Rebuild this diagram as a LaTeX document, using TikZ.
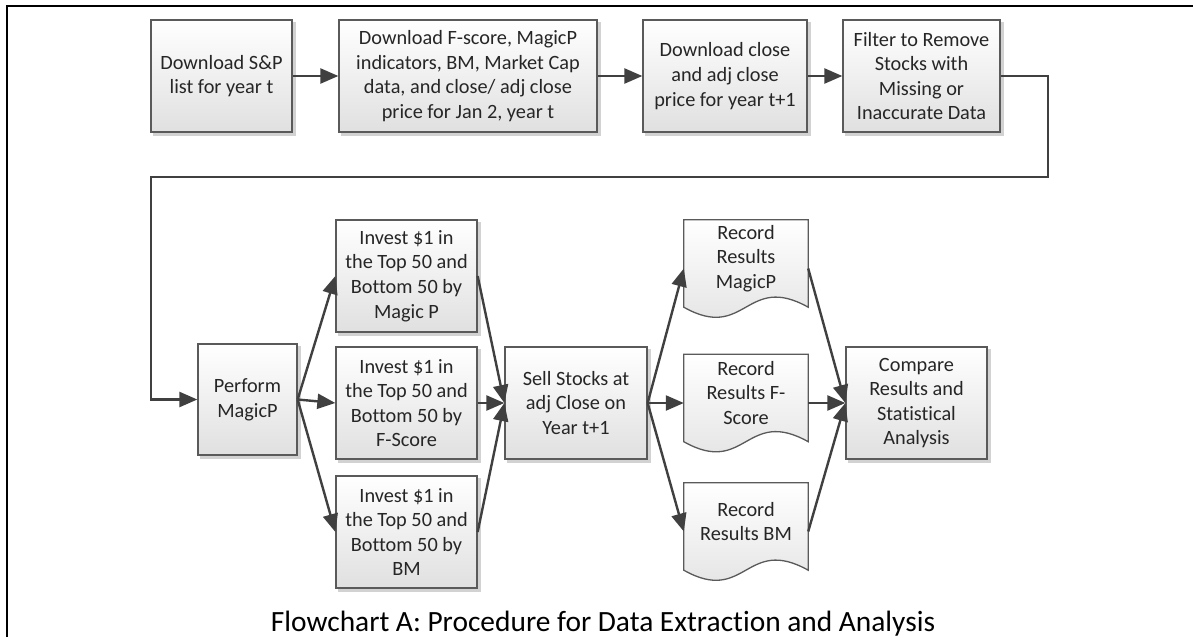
\documentclass[tikz,border=0pt]{standalone}
\usepackage{fontspec}
\setmainfont{Carlito}[Ligatures={NoCommon}]
\usetikzlibrary{arrows.meta,calc}
\pgfdeclarelayer{background}
\pgfsetlayers{background,main}
\definecolor{linec}{HTML}{404040}
\definecolor{bordc}{HTML}{5A5A5A}
\definecolor{shadc}{HTML}{D2D2D2}
\definecolor{fillb}{HTML}{E0E0E0}
\definecolor{textc}{HTML}{262626}
\begin{document}
\begin{tikzpicture}[x=1pt,y=-1pt,
  boxtext/.style={align=center, inner sep=0pt, font=\fontsize{20.3}{24.6}\selectfont, text=textc},
  box/.style={boxtext, draw=bordc, line width=1.3pt, top color=white, bottom color=fillb},
  docbox/.style={minimum width=124, minimum height=97, inner sep=0pt},
  docshape/.style={draw=bordc, line width=1.3pt, top color=white, bottom color=fillb},
  arr/.style={draw=linec, line width=2.4pt, -{Triangle[length=18pt,width=15pt]}},
  conn/.style={draw=linec, line width=2.4pt}
]
\useasboundingbox (0,0) rectangle (1193,637);
\draw[line width=2.2pt, black] (7,637) -- (7,6) -- (1193,6);

% top row
\node[box, minimum width=141, minimum height=112] (b1) at (221.5,76) {Download S\&P\\list for year t};
\node[box, minimum width=258, minimum height=112] (b2) at (468,76) {Download F-score, MagicP\\indicators, BM, Market Cap\\data, and close/ adj close\\price for Jan 2, year t};
\node[box, minimum width=164, minimum height=112] (b3) at (725,76) {Download close\\and adj close\\price for year t+1};
\node[box, minimum width=157, minimum height=112] (b4) at (921.5,76) {Filter to Remove\\Stocks with\\Missing or\\Inaccurate Data};

% second row
\node[box, minimum width=99, minimum height=111] (perf) at (247.5,399.5) {Perform\\MagicP};
\node[box, minimum width=141, minimum height=112] (i1) at (406.5,276) {Invest \$1 in\\the Top 50 and\\Bottom 50 by\\Magic P};
\node[box, minimum width=141, minimum height=112] (i2) at (406.5,403) {Invest \$1 in\\the Top 50 and\\Bottom 50 by\\F-Score};
\node[box, minimum width=141, minimum height=112] (i3) at (406.5,532) {Invest \$1 in\\the Top 50 and\\Bottom 50 by\\BM};
\node[box, minimum width=142, minimum height=112] (sell) at (576,403) {Sell Stocks at\\adj Close on\\Year t+1};
\node[box, minimum width=141, minimum height=112] (cmp) at (916.5,403) {Compare\\Results and\\Statistical\\Analysis};

% document shapes
\node[docbox] (r1) at (746,268.5) {};
\node[docbox] (r2) at (746,403) {};
\node[docbox] (r3) at (746,531.5) {};
\foreach \r in {r1,r2,r3}{
  \shade[docshape] (\r.north west) -- (\r.north east) -- ($(\r.south east)+(0,-10)$)
    .. controls ($(\r.south west)+(62,-45)$) and ($(\r.south west)+(62,25)$) .. ($(\r.south west)+(0,-10)$) -- cycle;
}
\node[boxtext] (r1t) at ($(r1.center)+(0,-10)$) {Record\\Results\\MagicP};
\node[boxtext] (r2t) at ($(r2.center)+(0,-10)$) {Record\\Results F-\\Score};
\node[boxtext] (r3t) at ($(r3.center)+(0,-10)$) {Record\\Results BM};

% shadows
\begin{pgfonlayer}{background}
\foreach \n in {b1,b2,b3,b4,perf,i1,i2,i3,sell,cmp}{
  \fill[shadc] ([shift={(3,3)}]\n.north west) rectangle ([shift={(3,3)}]\n.south east);
}
\foreach \r in {r1,r2,r3}{
  \fill[shadc, shift={(3,3)}] (\r.north west) -- (\r.north east) -- ($(\r.south east)+(0,-10)$)
    .. controls ($(\r.south west)+(62,-45)$) and ($(\r.south west)+(62,25)$) .. ($(\r.south west)+(0,-10)$) -- cycle;
}
\end{pgfonlayer}

% connectors
\coordinate (k1) at (1048,177);
\coordinate (k2) at (151,177);
\draw[arr] (b1.east) -- (b2.west);
\draw[arr] (b2.east) -- (b3.west);
\draw[arr] (b3.east) -- (b4.west);
\draw[arr] (b4.east) -| (k1) -- (k2) |- (perf.west);

\draw[arr] (perf.east) -- (i1.west);
\draw[arr] (perf.east) -- (i2.west);
\draw[arr] (perf.east) -- (i3.west);
\draw[arr] (i1.east) -- (sell.west);
\draw[arr] (i2.east) -- (sell.west);
\draw[arr] (i3.east) -- (sell.west);
\draw[arr] (sell.east) -- (r1.west);
\draw[arr] (sell.east) -- (r2.west);
\draw[arr] (sell.east) -- (r3.west);
\draw[arr] (r1.east) -- (cmp.west);
\draw[arr] (r2.east) -- (cmp.west);
\draw[arr] (r3.east) -- (cmp.west);

\node[anchor=base, font=\fontsize{29.4}{33}\selectfont, text=black] (cap) at (603,631) {Flowchart A: Procedure for Data Extraction and Analysis};
\end{tikzpicture}
\end{document}
